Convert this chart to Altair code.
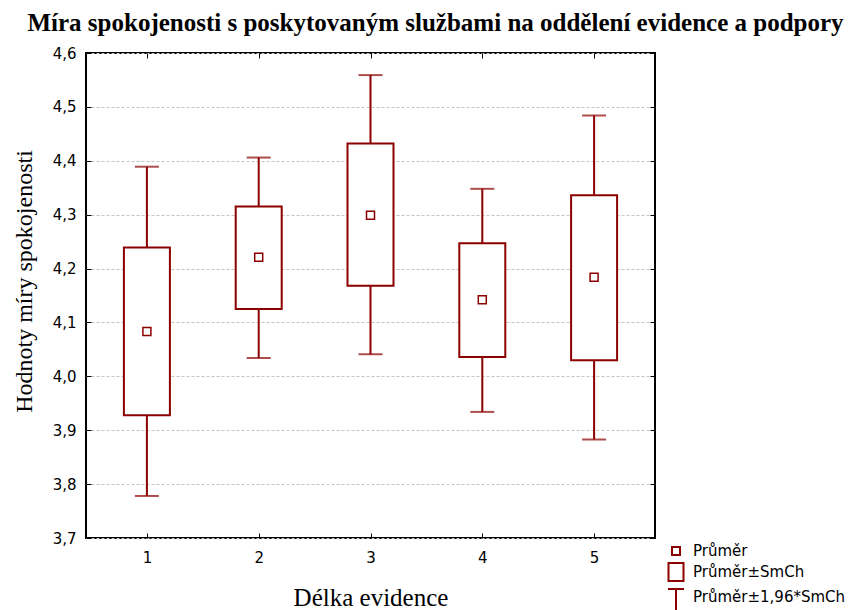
import altair as alt
import pandas as pd

# Group means with ±SE (box) and ±1.96*SE (whisker) bounds
categories = [1, 2, 3, 4, 5]
means = [4.083, 4.221, 4.299, 4.142, 4.184]
se_low = [3.928, 4.125, 4.168, 4.036, 4.030]
se_high = [4.239, 4.315, 4.432, 4.247, 4.336]
ci_low = [3.778, 4.034, 4.041, 3.934, 3.883]
ci_high = [4.389, 4.406, 4.559, 4.348, 4.484]

y_ticks = [3.7, 3.8, 3.9, 4.0, 4.1, 4.2, 4.3, 4.4, 4.5, 4.6]
legend_labels = ["Průměr", "Průměr±SmCh", "Průměr±1,96*SmCh"]
legend_shapes = [
    "M-0.4,-0.4H0.4V0.4H-0.4Z",
    "M-0.75,-0.9H0.75V0.9H-0.75Z",
    "M-0.8,-0.8H0.8M0,-0.8V1.6",
]

df = pd.DataFrame({
    "kat": categories,
    "prumer": means,
    "se_lo": se_low,
    "se_hi": se_high,
    "ci_lo": ci_low,
    "ci_hi": ci_high,
    "legenda": legend_labels[0],
})

RED = "#8B0000"
W, H = 569, 485
SANS = "DejaVu Sans"
SERIF = "Liberation Serif"

x_scale = alt.Scale(domain=[0.5, 5.5], nice=False, zero=False)
y_scale = alt.Scale(domain=[3.7, 4.6], nice=False, zero=False)

label_expr = "replace(format(datum.value, '.1f'), '.', ',')"

tick_axis = dict(labels=False, domain=False, grid=False, ticks=True,
                 tickSize=5, tickColor="black", tickWidth=1, title=None)

base = alt.Chart(df)

# whisker line (±1.96*SE); carries inward ticks on the left and bottom edges
whisker = base.mark_rule(color=RED, strokeWidth=2).encode(
    x=alt.X("kat:Q", scale=x_scale,
            axis=alt.Axis(orient="top", offset=-H, values=categories, **tick_axis)),
    y=alt.Y("ci_lo:Q", scale=y_scale,
            axis=alt.Axis(orient="right", offset=-W, values=y_ticks, **tick_axis)),
    y2="ci_hi:Q",
)

# whisker caps; carries inward ticks on the right and top edges
cap_lo = base.mark_tick(color=RED, orient="horizontal", size=24, thickness=2).encode(
    x=alt.X("kat:Q", scale=x_scale,
            axis=alt.Axis(orient="bottom", offset=-H, values=categories, **tick_axis)),
    y=alt.Y("ci_lo:Q", scale=y_scale,
            axis=alt.Axis(orient="left", offset=-W, values=y_ticks, **tick_axis)),
)
cap_hi = base.mark_tick(color=RED, orient="horizontal", size=24, thickness=2).encode(
    x=alt.X("kat:Q", scale=x_scale, axis=None),
    y=alt.Y("ci_hi:Q", scale=y_scale, axis=None),
)

# ±SE box with the labelled axes
box = base.mark_bar(size=46, fill="white", stroke=RED, strokeWidth=2).encode(
    x=alt.X("kat:Q", scale=x_scale,
            axis=alt.Axis(orient="bottom", values=categories, format="d",
                          tickSize=0, domain=False, grid=False,
                          labelFont=SANS, labelFontSize=15, labelColor="black",
                          labelPadding=12,
                          title="Délka evidence", titleFont=SERIF,
                          titleFontSize=25, titleFontWeight="normal",
                          titleColor="black", titleBaseline="alphabetic",
                          titleY=67)),
    y=alt.Y("se_lo:Q", scale=y_scale,
            axis=alt.Axis(orient="left", values=y_ticks, labelExpr=label_expr,
                          tickSize=0, domain=False, grid=True,
                          gridDash=[3, 2], gridColor="#c4c4c4", gridWidth=1,
                          labelFont=SANS, labelFontSize=15, labelColor="black",
                          labelPadding=10,
                          title="Hodnoty míry spokojenosti", titleFont=SERIF,
                          titleFontSize=24, titleFontWeight="normal",
                          titleColor="black", titleAngle=270,
                          titleBaseline="middle", titleAlign="center",
                          titleX=-62, titleY=228)),
    y2="se_hi:Q",
)

# mean marker, also drives the legend
mean = base.mark_point(filled=False, stroke=RED, strokeWidth=1.5, size=400, opacity=1).encode(
    x=alt.X("kat:Q", scale=x_scale, axis=None),
    y=alt.Y("prumer:Q", scale=y_scale, axis=None),
    shape=alt.Shape(
        "legenda:N",
        scale=alt.Scale(domain=legend_labels, range=legend_shapes),
        legend=alt.Legend(
            title=None, orient="none", legendX=579, legendY=487,
            symbolSize=400, symbolStrokeColor=RED, symbolFillColor="transparent",
            symbolStrokeWidth=2, labelFont=SANS, labelFontSize=15,
            labelColor="black", labelOffset=6, rowPadding=0, padding=0,
        ),
    ),
)

chart = (
    alt.layer(whisker, box, cap_lo, cap_hi, mean)
    .resolve_axis(x="independent", y="independent")
    .properties(
        width=W, height=H,
        autosize=alt.AutoSizeParams(type="none"),
        padding={"left": 86, "top": 53, "right": 858 - 86 - W, "bottom": 610 - 53 - H},
        background="white",
        title=alt.TitleParams(
            "Míra spokojenosti s poskytovaným službami na oddělení evidence a podpory",
            font=SERIF, fontSize=25, fontWeight="bold", color="black",
            anchor="middle", dx=65, dy=30, offset=20, baseline="alphabetic",
        ),
    )
    .configure_view(stroke="black", strokeWidth=2)
)

chart.save("out.html", embed_options={"renderer": "svg", "actions": False})
